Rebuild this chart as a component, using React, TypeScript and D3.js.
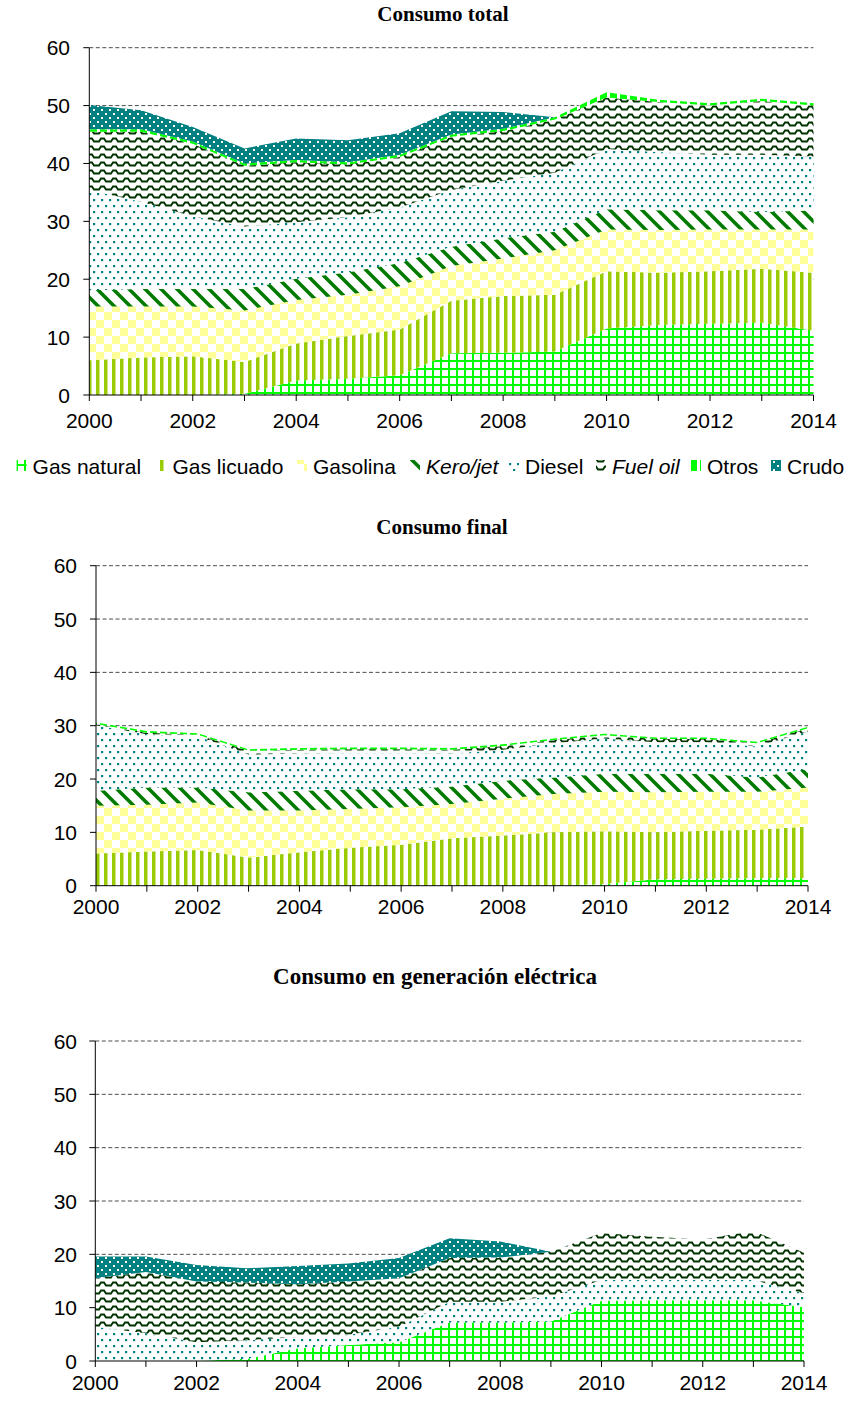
import React from 'react';
import * as d3 from 'd3';

// ---------- DATA ----------
const years = [2000, 2001, 2002, 2003, 2004, 2005, 2006, 2007, 2008, 2009, 2010, 2011, 2012, 2013, 2014];
const seriesKeys = ['gasNatural', 'gasLicuado', 'gasolina', 'kerojet', 'diesel', 'fuelOil', 'otros', 'crudo'];
const seriesLabels = ['Gas natural', 'Gas licuado', 'Gasolina', 'Kero/jet', 'Diesel', 'Fuel oil', 'Otros', 'Crudo'];
const italicLabels = [false, false, false, true, false, true, false, false];
const yTickValues = [0, 10, 20, 30, 40, 50, 60];
const xTickYears = years;
const xLabelYears = [2000, 2002, 2004, 2006, 2008, 2010, 2012, 2014];
const chartTitles = ['Consumo total', 'Consumo final', 'Consumo en generación eléctrica'];

// Consumo total
const totalGasNatural = [0, 0, 0, 0.2, 2.5, 2.8, 3.4, 7.2, 7.3, 7.5, 11.5, 12.1, 12.3, 12.5, 11.1];
const totalGasLicuado = [6.0, 6.5, 6.7, 5.5, 6.4, 7.4, 7.9, 9.1, 9.8, 9.8, 9.9, 9.0, 9.1, 9.3, 10.0];
const totalGasolina = [9.3, 8.8, 8.6, 8.9, 7.5, 7.1, 7.5, 6.0, 6.5, 7.7, 7.2, 7.4, 7.2, 6.8, 7.5];
const totalKerojet = [2.8, 3.0, 3.0, 3.7, 3.7, 3.9, 4.0, 3.3, 3.5, 3.2, 3.5, 3.4, 3.3, 3.0, 3.3];
const totalDiesel = [17.3, 15.1, 12.6, 10.8, 9.8, 9.5, 9.6, 9.8, 9.9, 10.2, 10.4, 10.1, 9.6, 9.9, 9.3];
const totalFuelOil = [10.1, 12.1, 12.5, 10.5, 10.3, 9.1, 8.7, 9.2, 8.6, 9.2, 8.9, 8.6, 8.5, 9.3, 8.8];
const totalOtros = [0.4, 0.4, 0.4, 0.4, 0.4, 0.4, 0.4, 0.4, 0.4, 0.4, 0.9, 0.4, 0.4, 0.4, 0.4];
const totalCrudo = [4.2, 3.3, 2.5, 2.6, 3.7, 3.8, 3.7, 4.0, 2.9, 0, 0, 0, 0, 0, 0];

// Consumo final
const finalGasNatural = [0, 0, 0, 0, 0, 0, 0, 0, 0, 0, 0.3, 1.2, 1.3, 1.4, 1.4];
const finalGasLicuado = [6.05, 6.4, 6.7, 5.3, 6.25, 7.1, 7.7, 8.9, 9.4, 10.0, 9.9, 8.8, 9.0, 9.1, 9.7];
const finalGasolina = [8.95, 8.8, 8.9, 8.8, 7.85, 7.3, 7.0, 6.4, 6.9, 7.2, 7.4, 7.5, 7.3, 7.1, 7.3];
const finalKerojet = [2.8, 3.2, 2.8, 3.4, 3.7, 3.7, 3.4, 3.3, 3.4, 3.1, 3.4, 3.5, 3.4, 2.7, 3.5];
const finalDiesel = [12.3, 10.0, 9.6, 7.1, 7.0, 6.8, 6.8, 6.2, 5.8, 6.4, 6.6, 5.9, 5.9, 5.8, 7.0];
const finalFuelOil = [0.2, 0.3, 0.3, 0.7, 0.7, 0.7, 0.7, 0.7, 0.7, 0.6, 0.6, 0.6, 0.6, 0.6, 0.6];
const finalOtros = [0.3, 0.3, 0.3, 0.3, 0.3, 0.3, 0.3, 0.3, 0.3, 0.3, 0.3, 0.3, 0.3, 0.3, 0.3];
const finalCrudo = [0, 0, 0, 0, 0, 0, 0, 0, 0, 0, 0, 0, 0, 0, 0];

// Consumo en generación eléctrica
const genGasNatural = [0, 0, 0, 0.4, 2.4, 3.0, 3.5, 7.2, 7.2, 7.4, 11.3, 11.4, 11.4, 11.4, 10.1];
const genGasLicuado = [0, 0, 0, 0, 0, 0, 0, 0, 0, 0, 0, 0, 0, 0, 0];
const genGasolina = [0, 0, 0, 0, 0, 0, 0, 0, 0, 0, 0, 0, 0, 0, 0];
const genKerojet = [0, 0, 0, 0, 0, 0, 0, 0, 0, 0, 0, 0, 0, 0, 0];
const genDiesel = [6.4, 5.2, 3.5, 3.5, 2.1, 1.9, 2.9, 3.9, 3.9, 4.7, 3.9, 3.8, 3.8, 3.8, 2.6];
const genFuelOil = [9.1, 11.5, 11.4, 10.8, 9.9, 10.0, 9.1, 8.2, 8.3, 8.4, 8.8, 8.1, 7.6, 9.2, 7.6];
const genOtros = [0, 0, 0, 0, 0, 0, 0, 0, 0, 0, 0, 0, 0, 0, 0];
const genCrudo = [4.1, 2.9, 3.1, 2.7, 3.4, 3.4, 3.8, 3.7, 3.0, 0, 0, 0, 0, 0, 0];

const totalSeries = [totalGasNatural, totalGasLicuado, totalGasolina, totalKerojet, totalDiesel, totalFuelOil, totalOtros, totalCrudo];
const finalSeries = [finalGasNatural, finalGasLicuado, finalGasolina, finalKerojet, finalDiesel, finalFuelOil, finalOtros, finalCrudo];
const genSeries = [genGasNatural, genGasLicuado, genGasolina, genKerojet, genDiesel, genFuelOil, genOtros, genCrudo];

function buildRows(series: number[][]) {
  return years.map((year, i) => {
    const row: any = { year };
    seriesKeys.forEach((k, j) => { row[k] = series[j][i]; });
    return row;
  });
}

// ---------- LAYOUT ----------
const W = 851;
const H = 1403;
const FONT = '"Liberation Sans", Arial, Helvetica, sans-serif';
const SERIF = '"Liberation Serif", "Times New Roman", Times, serif';
const patternIds = ['p-gn', 'p-gl', 'p-gas', 'p-kero', 'p-diesel', 'p-fuel', 'p-otros', 'p-crudo'];

const layouts = [
  { x0: 89.3, x1: 813.5, yb: 395, yt: 47.7, titleX: 443, titleY: 21, titleSize: 21, labelRight: 70, xLabelY: 428 },
  { x0: 96, x1: 808, yb: 885.7, yt: 565.7, titleX: 442, titleY: 534, titleSize: 21, labelRight: 77, xLabelY: 914 },
  { x0: 95.3, x1: 804, yb: 1361, yt: 1041, titleX: 435, titleY: 984, titleSize: 23, labelRight: 77, xLabelY: 1390 },
];
const legendTextX = [32.6, 172.5, 313, 426, 525, 612, 707, 787];
const legendY = 466;

function Patterns() {
  return (
    <defs>
      <pattern id="p-gn" patternUnits="userSpaceOnUse" width={8} height={8}>
        <rect width={8} height={8} fill="#fff" />
        <rect x={0} y={0} width={2} height={8} fill="#00FF00" />
        <rect x={0} y={0} width={8} height={2} fill="#00FF00" />
      </pattern>
      <pattern id="p-gl" patternUnits="userSpaceOnUse" width={8} height={8}>
        <rect width={8} height={8} fill="#fff" />
        <rect x={0} y={0} width={3.5} height={8} fill="#99CC00" />
      </pattern>
      <pattern id="p-gas" patternUnits="userSpaceOnUse" width={16} height={16}>
        <rect width={16} height={16} fill="#fff" />
        <rect x={0} y={0} width={8} height={8} fill="#FFFF99" />
        <rect x={8} y={8} width={8} height={8} fill="#FFFF99" />
      </pattern>
      <pattern id="p-kero" patternUnits="userSpaceOnUse" width={16} height={16}>
        <rect width={16} height={16} fill="#fff" />
        <path d="M-4,-4 L20,20 M-4,12 L4,20 M12,-4 L20,4" stroke="#007A00" strokeWidth={3.6} fill="none" />
      </pattern>
      <pattern id="p-diesel" patternUnits="userSpaceOnUse" width={8} height={12}>
        <rect width={8} height={12} fill="#fff" />
        <rect x={1} y={1} width={2.2} height={2.2} fill="#008080" />
        <rect x={5} y={7} width={2.2} height={2.2} fill="#008080" />
      </pattern>
      <pattern id="p-fuel" patternUnits="userSpaceOnUse" width={12} height={8}>
        <rect width={12} height={8} fill="#fff" />
        <path d="M0,5.5 H3 L5,2.5 H8 L10,5.5 H12" stroke="#003300" strokeWidth={1.9} fill="none" />
      </pattern>
      <pattern id="p-otros" patternUnits="userSpaceOnUse" width={10} height={6}>
        <rect width={10} height={6} fill="#fff" />
        <rect x={0} y={0} width={7} height={6} fill="#00FF00" />
      </pattern>
      <pattern id="p-crudo" patternUnits="userSpaceOnUse" width={8} height={8}>
        <rect width={8} height={8} fill="#008080" />
        <rect x={1} y={1} width={2} height={2} fill="#fff" />
        <rect x={5} y={5} width={2} height={2} fill="#fff" />
      </pattern>
    </defs>
  );
}

function StackChart({ series, title, layout }: { series: number[][]; title: string; layout: any }) {
  const rows = buildRows(series);
  const x = d3.scaleLinear().domain([years[0], years[years.length - 1]]).range([layout.x0, layout.x1]);
  const y = d3.scaleLinear().domain([0, 60]).range([layout.yb, layout.yt]);
  const stacked = d3.stack<any>().keys(seriesKeys)(rows);
  const area = d3
    .area<any>()
    .x((d) => x(d.data.year))
    .y0((d) => y(d[0]))
    .y1((d) => y(d[1]));

  return (
    <g>
      <text x={layout.titleX} y={layout.titleY} textAnchor="middle" fontFamily={SERIF} fontWeight="bold" fontSize={layout.titleSize} fill="#000">
        {title}
      </text>
      {yTickValues.filter((v) => v > 0).map((v) => (
        <line key={'g' + v} x1={layout.x0} x2={layout.x1} y1={y(v)} y2={y(v)} stroke="#4d4d4d" strokeWidth={1} strokeDasharray="4,2.5" />
      ))}
      {stacked.map((s, i) => (
        <path key={s.key} d={area(s as any) || ''} fill={`url(#${patternIds[i]})`} stroke="none" />
      ))}
      <line x1={layout.x0} x2={layout.x0} y1={layout.yb} y2={layout.yt} stroke="#000" strokeWidth={1} />
      <line x1={layout.x0} x2={layout.x1} y1={layout.yb} y2={layout.yb} stroke="#000" strokeWidth={1} />
      {yTickValues.map((v) => (
        <g key={'yt' + v}>
          <line x1={layout.x0 - 6} x2={layout.x0} y1={y(v)} y2={y(v)} stroke="#000" strokeWidth={1} />
          <text x={layout.labelRight} y={y(v) + 7.5} textAnchor="end" fontFamily={FONT} fontSize={21} fill="#000">
            {v}
          </text>
        </g>
      ))}
      {xTickYears.map((yr) => (
        <line key={'xt' + yr} x1={x(yr)} x2={x(yr)} y1={layout.yb} y2={layout.yb + 6} stroke="#000" strokeWidth={1} />
      ))}
      {xLabelYears.map((yr) => (
        <text key={'xl' + yr} x={x(yr)} y={layout.xLabelY} textAnchor="middle" fontFamily={FONT} fontSize={21} fill="#000">
          {yr}
        </text>
      ))}
    </g>
  );
}

function Legend() {
  return (
    <g>
      {seriesLabels.map((label, i) => (
        <g key={label}>
          <rect x={legendTextX[i] - 16} y={legendY - 6} width={10} height={11} fill={`url(#${patternIds[i]})`} />
          <text
            x={legendTextX[i]}
            y={legendY + 7.5}
            fontFamily={FONT}
            fontSize={21}
            fontStyle={italicLabels[i] ? 'italic' : 'normal'}
            fill="#000"
          >
            {label}
          </text>
        </g>
      ))}
    </g>
  );
}

export default function App() {
  const allSeries = [totalSeries, finalSeries, genSeries];
  return (
    <svg
      width={W}
      height={H}
      viewBox={`0 0 ${W} ${H}`}
      style={{ position: 'absolute', left: 0, top: 0, display: 'block', background: '#fff' }}
    >
      <Patterns />
      <rect width={W} height={H} fill="#fff" />
      {allSeries.map((s, i) => (
        <StackChart key={i} series={s} title={chartTitles[i]} layout={layouts[i]} />
      ))}
      <Legend />
    </svg>
  );
}
